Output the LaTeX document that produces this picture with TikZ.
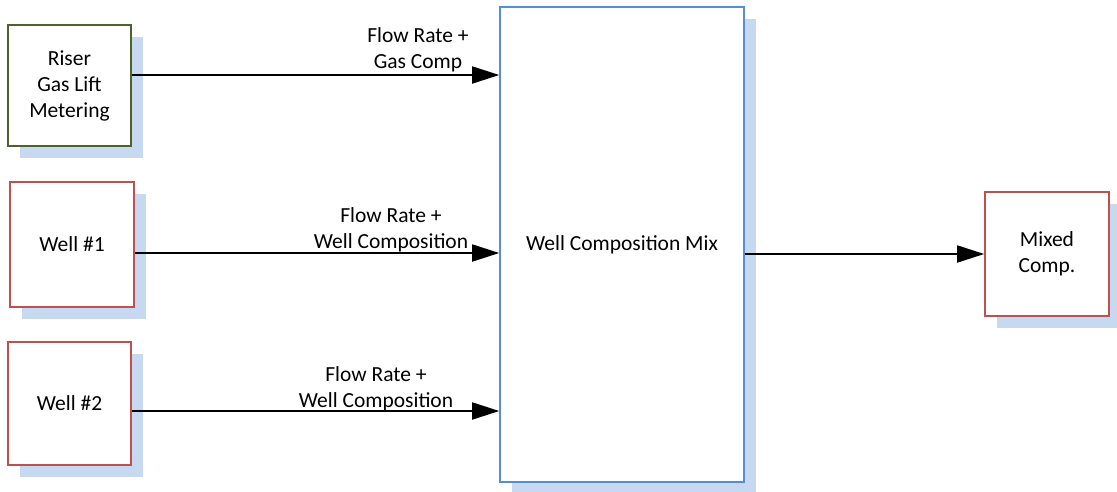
\documentclass[tikz,border=0pt]{standalone}
\usepackage{fontspec}
\setmainfont{Carlito}
\usetikzlibrary{arrows.meta,shadows}
\definecolor{shadowblue}{HTML}{C6D9F1}
\definecolor{wellred}{HTML}{C0504D}
\definecolor{risergreen}{HTML}{4F6228}
\definecolor{mixblue}{HTML}{558ED5}
\tikzset{
  blockbox/.style={draw, line width=1.6pt, fill=white, align=center, inner sep=0pt,
    font=\fontsize{21.5}{26}\selectfont,
    drop shadow={shadow xshift=11.5pt, shadow yshift=-11.5pt, fill=shadowblue, opacity=1}},
  flow/.style={line width=1.8pt, -{Triangle[length=27pt,width=17pt]}},
  flowlabel/.style={align=center, inner sep=0pt, font=\fontsize{21.5}{26}\selectfont}
}
\begin{document}
\begin{tikzpicture}[x=1pt, y=-1pt]
  \useasboundingbox (0,0) rectangle (1117,491);
  % source blocks
  \node[blockbox, draw=risergreen, minimum width=123pt, minimum height=121pt]
    (riser) at (69.5,85.5) {Riser\\Gas Lift\\Metering};
  \node[blockbox, draw=wellred, minimum width=124pt, minimum height=125pt]
    (well1) at (72,244.5) {Well \#1};
  \node[blockbox, draw=wellred, minimum width=123pt, minimum height=123pt]
    (well2) at (69.5,403.5) {Well \#2};
  % mixer and result
  \node[blockbox, draw=mixblue, minimum width=244pt, minimum height=475pt]
    (mix) at (622,244.5) {Well Composition Mix};
  \node[blockbox, draw=wellred, minimum width=124pt, minimum height=124pt]
    (mixed) at (1047,254) {Mixed\\Comp.};
  % arrow rows
  \coordinate (row1) at (0,75);
  \coordinate (row2) at (0,253);
  \coordinate (row3) at (0,411);
  % flows
  \draw[flow] (riser.east |- row1) -- (mix.west |- row1);
  \draw[flow] (well1.east |- row2) -- (mix.west |- row2);
  \draw[flow] (well2.east |- row3) -- (mix.west |- row3);
  \draw[flow] (mix.east |- mixed.west) -- (mixed.west);
  % flow labels
  \node[flowlabel] (l1) at (418,50) {Flow Rate +\\Gas Comp};
  \node[flowlabel] (l2) at (391,230) {Flow Rate +\\Well Composition};
  \node[flowlabel] (l3) at (376,389) {Flow Rate +\\Well Composition};
\end{tikzpicture}
\end{document}
